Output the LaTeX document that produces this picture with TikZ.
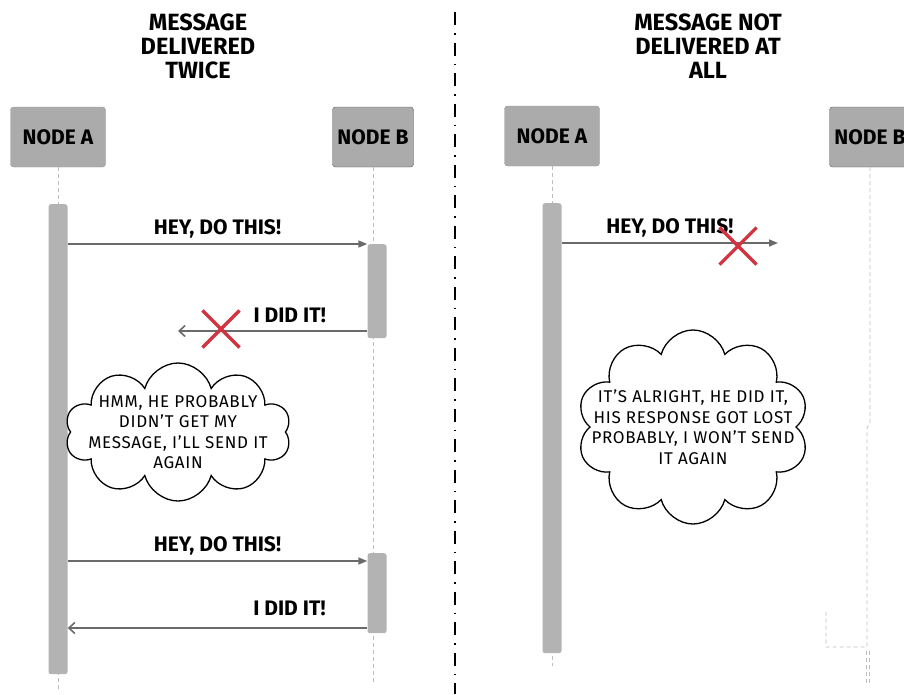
\documentclass[tikz,border=0pt]{standalone}
\usepackage{fontspec}
\setmainfont{Fira Sans}
\usetikzlibrary{arrows.meta,shapes.symbols,shapes.misc}
\definecolor{boxgray}{HTML}{ABABAB}
\definecolor{bargray}{HTML}{B3B3B3}
\definecolor{arrgray}{HTML}{6A6A6A}
\definecolor{lifegray}{HTML}{BDBDBD}
\definecolor{crossred}{HTML}{D2333F}
\begin{document}
\begin{tikzpicture}[x=1pt,y=-1pt,
  title/.style={font=\bfseries\fontsize{23.5}{24}\selectfont,align=center},
  actor/.style={fill=boxgray,rounded corners=3pt,minimum height=60pt,
    font=\bfseries\fontsize{21}{22}\selectfont},
  life/.style={draw=lifegray,dash pattern=on 4pt off 3pt,line width=0.8pt},
  act/.style={fill=bargray,rounded corners=2.5pt,minimum width=19pt,anchor=north,inner sep=0pt},
  req/.style={draw=arrgray,line width=1.6pt,-{Triangle[length=9pt,width=7pt]}},
  rep/.style={draw=arrgray,line width=1.6pt,-{Straight Barb[length=6pt,width=11pt]}},
  lbl/.style={font=\bfseries\fontsize{21}{22}\selectfont,inner sep=2pt},
  lost/.style={cross out,draw=crossred,line width=3.2pt,minimum size=34pt,inner sep=0pt},
  bubble/.style={cloud,draw,line width=1.3pt,cloud puffs=10,cloud ignores aspect,inner sep=0pt},
  thought/.style={font=\fontsize{17}{20.5}\selectfont\addfontfeatures{LetterSpace=4},
    align=center,inner sep=0pt}]
\clip (0,0) rectangle (904,694);
\node[title] (titleL) at (198,46) {MESSAGE\\DELIVERED\\TWICE};
\node[title] (titleR) at (708,46) {MESSAGE NOT\\DELIVERED AT\\ALL};
\draw[line width=1.4pt,dash pattern=on 13pt off 8pt on 1.5pt off 8pt] (455,12) -- (455,694);

\node[actor,draw=boxgray!90!black,minimum width=95pt] (aL) at (58,137) {NODE A};
\node[actor,draw=black!65,minimum width=81pt] (bL) at (373,137) {NODE B};
\draw[life] (aL.south) -- ++(0,522);
\draw[life] (bL.south) -- ++(0,518);
\node[act,minimum height=470pt] (actAL) at (58,204) {};
\node[act,minimum height=94pt] (actBL1) at (377,244) {};
\node[act,minimum height=80pt] (actBL2) at (377,553) {};

\draw[req] (actAL.east |- actBL1.north) -- (actBL1.west |- actBL1.north)
  node[midway,above=3pt,lbl] (msgL1) {HEY, DO THIS!};
\coordinate (lostL) at (178,331);
\draw[rep] (actBL1.west |- lostL) -- (lostL)
  node[pos=0.41,above=5pt,lbl] (ackL1) {I DID IT!};
\node[lost] (xL) at (221,329) {};
\node[bubble,minimum width=226pt,minimum height=138pt] (cloudL) at (178,432) {};
\node[thought] (thinkL) at (cloudL) {HMM, HE PROBABLY\\DIDN'T GET MY\\MESSAGE, I'LL SEND IT\\AGAIN};
\draw[req] (actAL.east |- 0,561) -- (actBL2.west |- 0,561)
  node[midway,above=3pt,lbl] (msgL2) {HEY, DO THIS!};
\draw[rep] (actBL2.west |- 0,628) -- (actAL.east |- 0,628)
  node[pos=0.26,above=9pt,lbl] (ackL2) {I DID IT!};

\node[actor,draw=boxgray!90!black,minimum width=95pt] (aR) at (552,136) {NODE A};
\node[actor,draw=black!65,minimum width=81pt] (bR) at (870,137) {NODE B};
\draw[life] (aR.south) -- ++(0,500);
\draw[life] (bR.south) -- (870,423) -- (867,428) -- (867,647) -- (826,647) -- (826,612);
\draw[life] (866,651) -- (866,685) (869,651) -- (869,685);
\node[act,minimum height=450pt] (actAR) at (552,203) {};
\coordinate (lostR) at (778,243);
\draw[req] (actAR.east |- lostR) -- (lostR)
  node[midway,above=3pt,lbl] (msgR1) {HEY, DO THIS!};
\node[lost] (xR) at (738,246) {};
\node[bubble,minimum width=232pt,minimum height=194pt] (cloudR) at (693,427) {};
\node[thought] (thinkR) at (cloudR) {IT'S ALRIGHT, HE DID IT,\\HIS RESPONSE GOT LOST\\PROBABLY, I WON'T SEND\\IT AGAIN};
\end{tikzpicture}
\end{document}
